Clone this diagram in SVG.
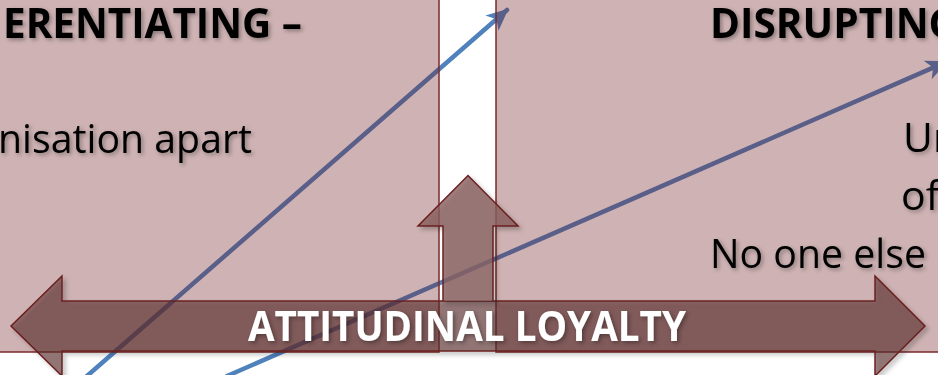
<svg xmlns="http://www.w3.org/2000/svg" width="938" height="375" viewBox="0 0 938 375">
  <defs>
    <style>
      .box { fill: #701C1F; fill-opacity: 0.335; stroke: #7b2a2a; stroke-width: 1.5; }
      .conn { fill: none; stroke: #4f81bd; stroke-width: 4.5; stroke-linecap: round; }
      .harrow { fill: #5c3030; fill-opacity: 0.58; stroke: #6b1f1f; stroke-width: 1.5; stroke-linejoin: miter; }
      .uparrow-fill { fill: #8a5e5e; fill-opacity: 0.8; stroke: none; }
      .uparrow-line { fill: none; stroke: #6b1f1f; stroke-width: 1.5; }
      .t { font-family: "Open Sans", "Liberation Sans", sans-serif; font-size: 41px; fill: #000; }
      .b { font-weight: bold; }
      .w { fill: #ffffff; }
    </style>
    <filter id="tshadow" x="-10%" y="-30%" width="120%" height="160%">
      <feDropShadow dx="2" dy="2" stdDeviation="2" flood-color="#000" flood-opacity="0.35"/>
    </filter>
    <filter id="ashadow" x="-10%" y="-10%" width="120%" height="130%">
      <feDropShadow dx="3" dy="3" stdDeviation="2" flood-color="#000" flood-opacity="0.3"/>
    </filter>
    <marker id="ah" markerUnits="userSpaceOnUse" markerWidth="24" markerHeight="24" viewBox="0 0 24 24" refX="20" refY="12" orient="auto">
      <path d="M0,2 L22,12 L0,22 L6,12 Z" fill="#4f81bd"/>
    </marker>
  </defs>

  <g id="connectors">
    <line class="conn" x1="87" y1="376" x2="507" y2="10" marker-end="url(#ah)"/>
    <line class="conn" x1="227" y1="376" x2="946" y2="62" marker-end="url(#ah)"/>
  </g>

  <g id="box-differentiating">
    <rect class="box" x="-10" y="-10" width="449" height="362"/>
    <text class="t b" x="3" y="38" textLength="299" lengthAdjust="spacingAndGlyphs" filter="url(#tshadow)">ERENTIATING –</text>
    <text class="t" x="-2" y="153" textLength="254" lengthAdjust="spacingAndGlyphs" filter="url(#tshadow)">nisation apart</text>
  </g>

  <g id="box-disrupting">
    <rect class="box" x="496" y="-10" width="454" height="362"/>
    <text class="t b" x="710" y="38" textLength="248" lengthAdjust="spacingAndGlyphs" filter="url(#tshadow)">DISRUPTING</text>
    <text class="t" x="903" y="152" filter="url(#tshadow)">Ur</text>
    <text class="t" x="901" y="210" filter="url(#tshadow)">of</text>
    <text class="t" x="710" y="268" textLength="216" lengthAdjust="spacingAndGlyphs" filter="url(#tshadow)">No one else</text>
  </g>

  <g id="arrow-attitudinal">
    <path class="harrow" filter="url(#ashadow)" d="M11,326 L62,276 L62,301 L875,301 L875,276 L925,326 L875,376 L875,351 L62,351 L62,376 Z"/>
  </g>

  <g id="arrow-up" filter="url(#ashadow)">
    <path class="uparrow-fill" d="M443,301 L443,226 L418,226 L468,175.5 L518,226 L493,226 L493,301 Z"/>
    <path class="uparrow-line" d="M443,301 L443,226 L418,226 L468,175.5 L518,226 L493,226 L493,301"/>
  </g>

  <g id="label-attitudinal">
    <text class="t b w" x="248" y="341" textLength="438" lengthAdjust="spacingAndGlyphs" filter="url(#tshadow)">ATTITUDINAL LOYALTY</text>
  </g>
</svg>
